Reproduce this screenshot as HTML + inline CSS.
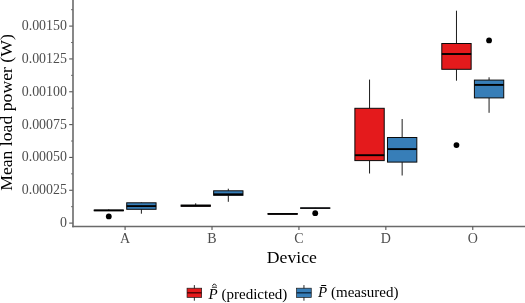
<!DOCTYPE html><html><head><meta charset="utf-8"><style>html,body{margin:0;padding:0;background:#fff}svg{display:block}text{font-family:"Liberation Serif",serif}</style></head><body>
<svg width="525" height="303" viewBox="0 0 525 303">
<rect width="525" height="303" fill="#fff"/>
<line x1="73" y1="0" x2="73" y2="227.3" stroke="#6a6a6a" stroke-width="1.6"/>
<line x1="72.2" y1="226.55" x2="525" y2="226.55" stroke="#6a6a6a" stroke-width="1.5"/>
<line x1="69.2" y1="223.10" x2="72.7" y2="223.10" stroke="#555" stroke-width="1.1"/>
<text x="66.9" y="227.00" font-size="13.9" fill="#4d4d4d" text-anchor="end">0</text>
<line x1="69.2" y1="190.27" x2="72.7" y2="190.27" stroke="#555" stroke-width="1.1"/>
<text x="66.9" y="194.17" font-size="13.9" fill="#4d4d4d" text-anchor="end">0.00025</text>
<line x1="69.2" y1="157.43" x2="72.7" y2="157.43" stroke="#555" stroke-width="1.1"/>
<text x="66.9" y="161.33" font-size="13.9" fill="#4d4d4d" text-anchor="end">0.00050</text>
<line x1="69.2" y1="124.60" x2="72.7" y2="124.60" stroke="#555" stroke-width="1.1"/>
<text x="66.9" y="128.50" font-size="13.9" fill="#4d4d4d" text-anchor="end">0.00075</text>
<line x1="69.2" y1="91.77" x2="72.7" y2="91.77" stroke="#555" stroke-width="1.1"/>
<text x="66.9" y="95.67" font-size="13.9" fill="#4d4d4d" text-anchor="end">0.00100</text>
<line x1="69.2" y1="58.93" x2="72.7" y2="58.93" stroke="#555" stroke-width="1.1"/>
<text x="66.9" y="62.83" font-size="13.9" fill="#4d4d4d" text-anchor="end">0.00125</text>
<line x1="69.2" y1="26.10" x2="72.7" y2="26.10" stroke="#555" stroke-width="1.1"/>
<text x="66.9" y="30.00" font-size="13.9" fill="#4d4d4d" text-anchor="end">0.00150</text>
<line x1="71.1" y1="206.68" x2="72.7" y2="206.68" stroke="#555" stroke-width="0.9"/>
<line x1="71.1" y1="173.85" x2="72.7" y2="173.85" stroke="#555" stroke-width="0.9"/>
<line x1="71.1" y1="141.02" x2="72.7" y2="141.02" stroke="#555" stroke-width="0.9"/>
<line x1="71.1" y1="108.18" x2="72.7" y2="108.18" stroke="#555" stroke-width="0.9"/>
<line x1="71.1" y1="75.35" x2="72.7" y2="75.35" stroke="#555" stroke-width="0.9"/>
<line x1="71.1" y1="42.52" x2="72.7" y2="42.52" stroke="#555" stroke-width="0.9"/>
<line x1="71.1" y1="9.68" x2="72.7" y2="9.68" stroke="#555" stroke-width="0.9"/>
<line x1="125.09" y1="226.5" x2="125.09" y2="230" stroke="#555" stroke-width="1.1"/>
<text x="125.09" y="242.5" font-size="14" fill="#4d4d4d" text-anchor="middle">A</text>
<line x1="212.01" y1="226.5" x2="212.01" y2="230" stroke="#555" stroke-width="1.1"/>
<text x="212.01" y="242.5" font-size="14" fill="#4d4d4d" text-anchor="middle">B</text>
<line x1="298.93" y1="226.5" x2="298.93" y2="230" stroke="#555" stroke-width="1.1"/>
<text x="298.93" y="242.5" font-size="14" fill="#4d4d4d" text-anchor="middle">C</text>
<line x1="385.85" y1="226.5" x2="385.85" y2="230" stroke="#555" stroke-width="1.1"/>
<text x="385.85" y="242.5" font-size="14" fill="#4d4d4d" text-anchor="middle">D</text>
<line x1="472.77" y1="226.5" x2="472.77" y2="230" stroke="#555" stroke-width="1.1"/>
<text x="472.77" y="242.5" font-size="14" fill="#4d4d4d" text-anchor="middle">O</text>
<text x="291.9" y="263" font-size="17.7" fill="#000" text-anchor="middle">Device</text>
<text transform="translate(12.4,112.5) rotate(-90)" font-size="17.7" fill="#000" text-anchor="middle">Mean load power (W)</text>
<line x1="108.79" y1="209.4" x2="108.79" y2="210.1" stroke="#1c1c1c" stroke-width="1.0"/>
<line x1="108.79" y1="210.7" x2="108.79" y2="210.8" stroke="#1c1c1c" stroke-width="1.0"/>
<rect x="94.12" y="210.1" width="29.34" height="0.60" fill="#e41a1c" stroke="#0a0a0a" stroke-width="1.0"/>
<line x1="94.12" y1="210.4" x2="123.46" y2="210.4" stroke="#000" stroke-width="1.7"/>
<circle cx="108.79" cy="216.4" r="2.9" fill="#000"/>
<line x1="141.39" y1="202.3" x2="141.39" y2="202.8" stroke="#1c1c1c" stroke-width="1.0"/>
<line x1="141.39" y1="209.3" x2="141.39" y2="213.7" stroke="#1c1c1c" stroke-width="1.0"/>
<rect x="126.72" y="202.8" width="29.34" height="6.50" fill="#377eb8" stroke="#0a0a0a" stroke-width="1.0"/>
<line x1="126.72" y1="206.1" x2="156.06" y2="206.1" stroke="#000" stroke-width="1.9"/>
<line x1="195.71" y1="203.3" x2="195.71" y2="205.1" stroke="#1c1c1c" stroke-width="1.0"/>
<line x1="195.71" y1="206.3" x2="195.71" y2="206.4" stroke="#1c1c1c" stroke-width="1.0"/>
<rect x="181.04" y="205.1" width="29.34" height="1.20" fill="#e41a1c" stroke="#0a0a0a" stroke-width="1.0"/>
<line x1="181.04" y1="205.7" x2="210.38" y2="205.7" stroke="#000" stroke-width="1.7"/>
<line x1="228.31" y1="188.7" x2="228.31" y2="190.8" stroke="#1c1c1c" stroke-width="1.0"/>
<line x1="228.31" y1="195.3" x2="228.31" y2="201.8" stroke="#1c1c1c" stroke-width="1.0"/>
<rect x="213.64" y="190.8" width="29.34" height="4.50" fill="#377eb8" stroke="#0a0a0a" stroke-width="1.0"/>
<line x1="213.64" y1="194.3" x2="242.98" y2="194.3" stroke="#000" stroke-width="1.9"/>
<line x1="282.63" y1="213.4" x2="282.63" y2="213.5" stroke="#1c1c1c" stroke-width="1.0"/>
<line x1="282.63" y1="214.3" x2="282.63" y2="214.4" stroke="#1c1c1c" stroke-width="1.0"/>
<rect x="267.96" y="213.5" width="29.34" height="0.80" fill="#e41a1c" stroke="#0a0a0a" stroke-width="1.0"/>
<line x1="267.96" y1="213.9" x2="297.30" y2="213.9" stroke="#000" stroke-width="1.4"/>
<line x1="315.23" y1="207.8" x2="315.23" y2="207.9" stroke="#1c1c1c" stroke-width="1.0"/>
<line x1="315.23" y1="208.3" x2="315.23" y2="208.4" stroke="#1c1c1c" stroke-width="1.0"/>
<rect x="300.56" y="207.9" width="29.34" height="0.40" fill="#377eb8" stroke="#0a0a0a" stroke-width="1.0"/>
<line x1="300.56" y1="208.1" x2="329.90" y2="208.1" stroke="#000" stroke-width="1.0"/>
<circle cx="315.23" cy="213.2" r="2.9" fill="#000"/>
<line x1="369.55" y1="79.6" x2="369.55" y2="108.3" stroke="#1c1c1c" stroke-width="1.0"/>
<line x1="369.55" y1="160.6" x2="369.55" y2="173.5" stroke="#1c1c1c" stroke-width="1.0"/>
<rect x="354.88" y="108.3" width="29.34" height="52.30" fill="#e41a1c" stroke="#0a0a0a" stroke-width="1.0"/>
<line x1="354.88" y1="155.2" x2="384.22" y2="155.2" stroke="#000" stroke-width="1.9"/>
<line x1="402.15" y1="119" x2="402.15" y2="137.5" stroke="#1c1c1c" stroke-width="1.0"/>
<line x1="402.15" y1="162.1" x2="402.15" y2="175.5" stroke="#1c1c1c" stroke-width="1.0"/>
<rect x="387.48" y="137.5" width="29.34" height="24.60" fill="#377eb8" stroke="#0a0a0a" stroke-width="1.0"/>
<line x1="387.48" y1="149.1" x2="416.82" y2="149.1" stroke="#000" stroke-width="1.9"/>
<line x1="456.47" y1="10.7" x2="456.47" y2="43.5" stroke="#1c1c1c" stroke-width="1.0"/>
<line x1="456.47" y1="69.3" x2="456.47" y2="80.7" stroke="#1c1c1c" stroke-width="1.0"/>
<rect x="441.80" y="43.5" width="29.34" height="25.80" fill="#e41a1c" stroke="#0a0a0a" stroke-width="1.0"/>
<line x1="441.80" y1="54.0" x2="471.14" y2="54.0" stroke="#000" stroke-width="1.9"/>
<circle cx="456.47" cy="145.1" r="2.9" fill="#000"/>
<line x1="489.07" y1="77.3" x2="489.07" y2="80.1" stroke="#1c1c1c" stroke-width="1.0"/>
<line x1="489.07" y1="97.9" x2="489.07" y2="112.8" stroke="#1c1c1c" stroke-width="1.0"/>
<rect x="474.40" y="80.1" width="29.34" height="17.80" fill="#377eb8" stroke="#0a0a0a" stroke-width="1.0"/>
<line x1="474.40" y1="84.9" x2="503.74" y2="84.9" stroke="#000" stroke-width="1.9"/>
<circle cx="489.07" cy="40.4" r="2.9" fill="#000"/>
<line x1="194.35" y1="285.1" x2="194.35" y2="300.7" stroke="#111" stroke-width="0.9"/>
<rect x="187.05" y="288.2" width="14.6" height="9.2" fill="#e41a1c" stroke="#1a1a1a" stroke-width="0.7"/>
<line x1="187.05" y1="292.8" x2="201.65" y2="292.8" stroke="#4a0506" stroke-width="1.4"/>
<text x="208.6" y="298.9" font-size="15" fill="#000"><tspan font-style="italic">P</tspan> (predicted)</text>
<line x1="211.9" y1="287.2" x2="217" y2="287.2" stroke="#000" stroke-width="0.9"/>
<polyline points="212.4,285.8 214.4,283.8 216.4,285.8" fill="none" stroke="#000" stroke-width="1"/>
<line x1="303.95" y1="285.1" x2="303.95" y2="300.7" stroke="#111" stroke-width="0.9"/>
<rect x="296.65" y="288.2" width="14.6" height="9.2" fill="#377eb8" stroke="#1a1a1a" stroke-width="0.7"/>
<line x1="296.65" y1="292.8" x2="311.25" y2="292.8" stroke="#0e2a45" stroke-width="1.4"/>
<text x="318.1" y="297.2" font-size="15" fill="#000"><tspan font-style="italic">P</tspan> (measured)</text>
<line x1="321.2" y1="285.5" x2="326.2" y2="285.5" stroke="#000" stroke-width="1"/>
</svg></body></html>
